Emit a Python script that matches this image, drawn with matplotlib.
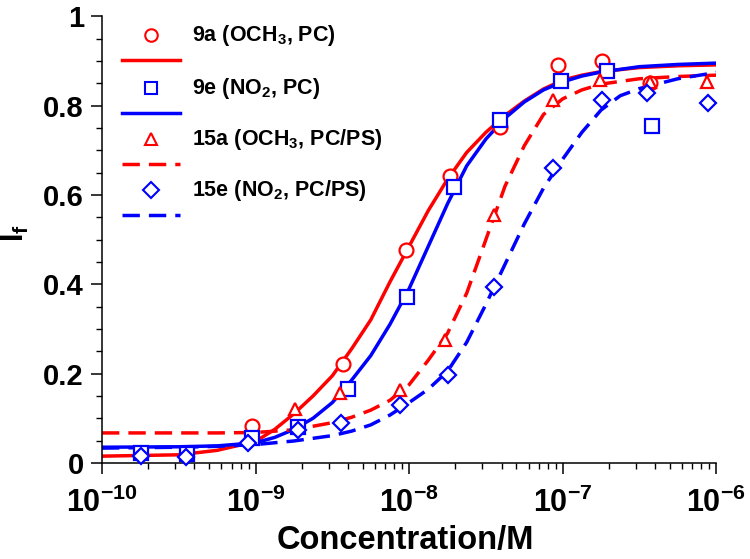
import numpy as np
import matplotlib
matplotlib.use('Agg')
import matplotlib.pyplot as plt
from matplotlib.ticker import MultipleLocator, FixedLocator, LogFormatterMathtext

plt.rcParams['font.family'] = ['Liberation Sans', 'DejaVu Sans']
plt.rcParams['font.weight'] = 'bold'
plt.rcParams['mathtext.fontset'] = 'custom'
plt.rcParams['mathtext.rm'] = 'Liberation Sans:bold'
plt.rcParams['mathtext.it'] = 'Liberation Sans:bold'
plt.rcParams['mathtext.bf'] = 'Liberation Sans:bold'
plt.rcParams['mathtext.default'] = 'rm'

# measured points
conc_9a = [9.5e-10, 3.7e-9, 9.5e-9, 1.85e-8, 3.9e-8, 9.3e-8, 1.8e-7, 3.7e-7]
If_9a = [0.083, 0.221, 0.477, 0.642, 0.752, 0.890, 0.900, 0.850]

conc_9e = [1.8e-10, 3.6e-10, 9.5e-10, 1.9e-9, 4.0e-9, 9.7e-9, 1.95e-8, 3.9e-8, 9.8e-8, 1.95e-7, 3.8e-7]
If_9e = [0.022, 0.020, 0.055, 0.080, 0.166, 0.371, 0.617, 0.767, 0.855, 0.877, 0.754]

conc_15a = [1.8e-9, 3.55e-9, 8.7e-9, 1.7e-8, 3.55e-8, 8.7e-8, 1.75e-7, 3.7e-7, 8.7e-7]
If_15a = [0.120, 0.157, 0.163, 0.275, 0.555, 0.812, 0.857, 0.852, 0.852]

conc_15e = [1.8e-10, 3.55e-10, 8.9e-10, 1.9e-9, 3.6e-9, 8.7e-9, 1.8e-8, 3.55e-8, 8.7e-8, 1.8e-7, 3.55e-7, 8.9e-7]
If_15e = [0.016, 0.013, 0.045, 0.074, 0.089, 0.130, 0.197, 0.394, 0.660, 0.812, 0.828, 0.805]

# fitted curves, x given as log10(conc)
fit_logc_9a = [-10, -9.5, -9.25, -9, -8.875, -8.75, -8.625, -8.5, -8.375, -8.25, -8.125, -8,
               -7.875, -7.75, -7.625, -7.5, -7.375, -7.25, -7.125, -7, -6.875, -6.75, -6.5,
               -6.25, -6]
fit_9a = [0.015, 0.018, 0.028, 0.048, 0.075, 0.11, 0.15, 0.195, 0.255, 0.32, 0.405, 0.485,
          0.565, 0.635, 0.695, 0.74, 0.778, 0.81, 0.837, 0.857, 0.868, 0.876, 0.885,
          0.889, 0.891]

fit_logc_9e = [-10, -9.5, -9.25, -9, -8.875, -8.75, -8.625, -8.5, -8.375, -8.25, -8.125, -8,
               -7.875, -7.75, -7.625, -7.5, -7.375, -7.25, -7.125, -7, -6.875, -6.75, -6.5,
               -6.25, -6]
fit_9e = [0.035, 0.036, 0.038, 0.045, 0.057, 0.075, 0.10, 0.135, 0.185, 0.24, 0.31, 0.39,
          0.485, 0.58, 0.665, 0.725, 0.772, 0.808, 0.835, 0.853, 0.866, 0.875, 0.887,
          0.892, 0.895]

fit_logc_15a = [-10, -9.5, -9.25, -9, -8.75, -8.5, -8.375, -8.25, -8.125, -8, -7.875, -7.75,
                -7.625, -7.5, -7.375, -7.25, -7.125, -7, -6.875, -6.75, -6.5, -6.25, -6]
fit_15a = [0.067, 0.067, 0.067, 0.068, 0.074, 0.09, 0.102, 0.118, 0.14, 0.175, 0.23, 0.29,
           0.38, 0.5, 0.62, 0.71, 0.78, 0.815, 0.835, 0.848, 0.86, 0.865, 0.868]

fit_logc_15e = [-10, -9.5, -9.25, -9, -8.75, -8.5, -8.375, -8.25, -8.125, -8, -7.875, -7.75,
                -7.625, -7.5, -7.375, -7.25, -7.125, -7, -6.875, -6.75, -6.625, -6.5, -6.25, -6]
fit_15e = [0.033, 0.035, 0.037, 0.041, 0.049, 0.061, 0.071, 0.085, 0.107, 0.135, 0.165, 0.205,
           0.27, 0.355, 0.445, 0.535, 0.615, 0.68, 0.74, 0.79, 0.822, 0.838, 0.86, 0.874]

labels = ['9a (OCH$_3$, PC)', '9e (NO$_2$, PC)', '15a (OCH$_3$, PC/PS)', '15e (NO$_2$, PC/PS)']
x_major = [1e-10, 1e-9, 1e-8, 1e-7, 1e-6]

red = '#ff0000'
blue = '#0000ff'
series = [
    (conc_9a, If_9a, fit_logc_9a, fit_9a, red, 'o', '-'),
    (conc_9e, If_9e, fit_logc_9e, fit_9e, blue, 's', '-'),
    (conc_15a, If_15a, fit_logc_15a, fit_15a, red, '^', '--'),
    (conc_15e, If_15e, fit_logc_15e, fit_15e, blue, 'D', '--'),
]
msizes = {'o': 10, 's': 9.5, '^': 9, 'D': 8.5}

fig = plt.figure(figsize=(7.5, 5.59), dpi=100)
ax = fig.add_axes([0.136, 0.172, 0.819, 0.799])

for conc, val, lc, fit, col, mk, ls in series:
    x = 10.0 ** np.array(lc)
    if ls == '--':
        ax.plot(x, fit, color=col, lw=2.5, dashes=(5, 2.6), zorder=2)
    else:
        ax.plot(x, fit, color=col, lw=2.5, zorder=2)
    ax.plot(conc, val, linestyle='none', marker=mk, ms=msizes[mk], mfc='white',
            mec=col, mew=1.6, zorder=3, clip_on=False)

ax.set_xscale('log')
ax.set_xlim(1e-10, 1e-6)
ax.set_ylim(0, 1)
minor = [m * d for d in x_major[:-1] for m in range(2, 10)]
ax.xaxis.set_major_locator(FixedLocator(x_major))
ax.xaxis.set_minor_locator(FixedLocator(minor))
ax.xaxis.set_major_formatter(LogFormatterMathtext())
ax.xaxis.set_minor_formatter(plt.NullFormatter())
ax.yaxis.set_major_locator(FixedLocator([0, 0.2, 0.4, 0.6, 0.8, 1.0]))
ax.yaxis.set_minor_locator(MultipleLocator(0.05))
ax.set_yticklabels(['0', '0.2', '0.4', '0.6', '0.8', '1'])

for s in ['top', 'right']:
    ax.spines[s].set_visible(False)
for s in ['left', 'bottom']:
    ax.spines[s].set_linewidth(1.1)
ax.tick_params(which='major', direction='out', length=8, width=1.1, pad=5)
ax.tick_params(which='minor', direction='out', length=4.5, width=1.0)
ax.tick_params(axis='y', which='major', labelsize=21)
ax.tick_params(axis='x', which='major', labelsize=22, pad=10)
for lab in ax.get_xticklabels() + ax.get_yticklabels():
    lab.set_fontweight('bold')

ax.set_xlabel('Concentration/M', fontsize=23.5, fontweight='bold')
ax.xaxis.set_label_coords(0.493, -0.14)
ax.set_ylabel('I$_f$', fontsize=22, fontweight='bold')
ax.yaxis.set_label_coords(-0.115, 0.515)

# legend: marker row above a line sample
trans = ax.transAxes
x0, x1 = (122 - 102) / 614, (180 - 102) / 614
xm = (151 - 102) / 614
xt = (192 - 102) / 614
rows = [35, 88, 139, 190]
for (conc, val, lc, fit, col, mk, ls), lab, ty in zip(series, labels, rows):
    yt = (463 - ty) / 447
    yl = (463 - (ty + 25)) / 447
    ax.plot([xm], [yt], transform=trans, marker=mk, ms=msizes[mk] * 0.9, mfc='white',
            mec=col, mew=1.5, linestyle='none', clip_on=False)
    if ls == '--':
        ax.plot([x0, x1], [yl, yl], transform=trans, color=col, lw=2.5, dashes=(5, 2.6),
                clip_on=False)
    else:
        ax.plot([x0, x1], [yl, yl], transform=trans, color=col, lw=2.5, clip_on=False)
    ax.text(xt, yt, lab, transform=trans, fontsize=15.5, fontweight='bold', va='center', ha='left')

fig.savefig('out.png', dpi=100)
